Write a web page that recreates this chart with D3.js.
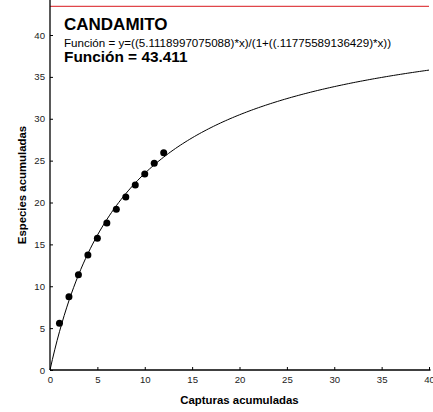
<!DOCTYPE html>
<html>
<head>
<meta charset="utf-8">
<script src="https://cdn.jsdelivr.net/npm/d3@7"></script>
<style>
  html, body { margin: 0; padding: 0; background: #fff; }
  svg { display: block; font-family: "Liberation Sans", Arial, sans-serif; }
</style>
</head>
<body>
<svg id="chart" width="433" height="412"></svg>
<script>
// Accumulated captures vs accumulated species, with Michaelis-Menten style fit
const capturas = [1, 2, 3, 4, 5, 6, 7, 8, 9, 10, 11, 12];
const especies = [5.58, 8.75, 11.38, 13.73, 15.73, 17.55, 19.19, 20.66, 22.09, 23.40, 24.68, 25.94];

// Fitted model y = (a*x)/(1 + b*x); asymptote a/b
const coefA = 5.1118997075088;
const coefB = 0.11775589136429;
const asintota = 43.411;

const xTicks = [0, 5, 10, 15, 20, 25, 30, 35, 40];
const yTicks = [0, 5, 10, 15, 20, 25, 30, 35, 40];

const titulo = "CANDAMITO";
const formula = "Función = y=((5.1118997075088)*x)/(1+((.11775589136429)*x))";
const resultado = "Función = 43.411";
const xTitulo = "Capturas acumuladas";
const yTitulo = "Especies acumuladas";

const svg = d3.select("#chart");
svg.append("rect").attr("width", 433).attr("height", 412).attr("fill", "#fff");

const x = d3.scaleLinear().domain([0, 40]).range([50, 429]);
const y = d3.scaleLinear().domain([0, 40]).range([370, 35]);
const yTop = y.invert(0);

// Fitted curve over the full x domain
const curvaX = d3.range(0, 40.001, 0.25);
const linea = d3.line()
  .x(d => x(d))
  .y(d => y(coefA * d / (1 + coefB * d)));

svg.append("path")
  .datum(curvaX)
  .attr("d", linea)
  .attr("fill", "none")
  .attr("stroke", "#000")
  .attr("stroke-width", 1);

// Asymptote
svg.append("line")
  .attr("x1", x(0)).attr("x2", x(40))
  .attr("y1", y(asintota)).attr("y2", y(asintota))
  .attr("stroke", "#e0464a")
  .attr("stroke-width", 1.3);

// Observed points
svg.append("g")
  .selectAll("circle")
  .data(capturas)
  .join("circle")
  .attr("cx", d => x(d))
  .attr("cy", (d, i) => y(especies[i]))
  .attr("r", 3.5)
  .attr("fill", "#000");

// Axes
const xAxis = d3.axisBottom(x).tickValues(xTicks).tickFormat(d3.format("d"))
  .tickSizeInner(-3).tickSizeOuter(0).tickPadding(6);
const gx = svg.append("g").attr("transform", `translate(0,${y(0)})`).call(xAxis);

const yAxis = d3.axisLeft(y).tickValues(yTicks).tickFormat(d3.format("d"))
  .tickSizeInner(-3).tickSizeOuter(0).tickPadding(5);
const gy = svg.append("g").attr("transform", `translate(${x(0)},0)`).call(yAxis);

gx.select(".domain").remove();
gy.select(".domain").remove();
svg.append("line")
  .attr("x1", x(0)).attr("x2", x(40) + 1.5)
  .attr("y1", y(0)).attr("y2", y(0))
  .attr("stroke", "#000").attr("stroke-width", 1.3);
svg.append("line")
  .attr("x1", x(0)).attr("x2", x(0))
  .attr("y1", y(0)).attr("y2", y(yTop))
  .attr("stroke", "#000").attr("stroke-width", 1.3);

[gx, gy].forEach(g => {
  g.selectAll(".tick line").attr("stroke", "#000").attr("stroke-width", 1);
  g.selectAll(".tick text")
    .attr("fill", "#222")
    .style("font-family", "'Liberation Sans', Arial, sans-serif")
    .style("font-size", "9.6px");
});

// Axis titles
svg.append("text")
  .attr("x", (x(0) + x(40)) / 2)
  .attr("y", 404)
  .attr("text-anchor", "middle")
  .style("font-weight", "bold")
  .style("font-size", "11.4px")
  .text(xTitulo);

svg.append("text")
  .attr("transform", `translate(26,${(y(0) + 0) / 2}) rotate(-90)`)
  .attr("text-anchor", "middle")
  .style("font-weight", "bold")
  .style("font-size", "11.4px")
  .text(yTitulo);

// Annotation block
svg.append("text")
  .attr("x", 64).attr("y", 29.5)
  .style("font-weight", "bold")
  .style("font-size", "17px")
  .text(titulo);
svg.append("text")
  .attr("x", 64).attr("y", 46.5)
  .style("font-size", "11.6px")
  .text(formula);
svg.append("text")
  .attr("x", 64).attr("y", 62)
  .style("font-weight", "bold")
  .style("font-size", "15.4px")
  .text(resultado);
</script>
</body>
</html>
